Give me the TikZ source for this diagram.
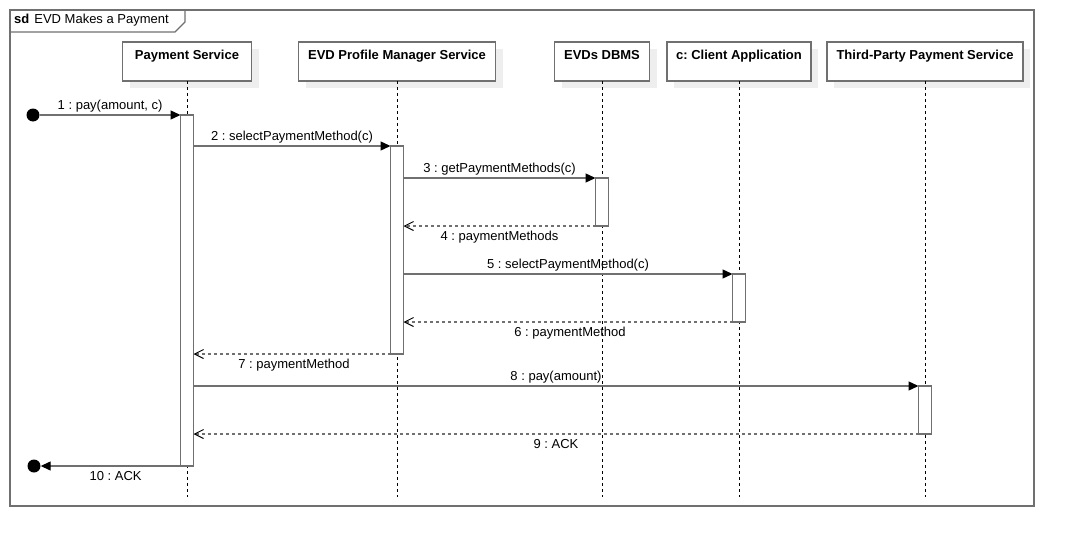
\documentclass[tikz,border=0pt]{standalone}
\usepackage{fontspec}
\setmainfont{Liberation Sans}
\usetikzlibrary{arrows.meta,shadows}
\definecolor{linegray}{RGB}{112,112,112}
\definecolor{shadowgray}{RGB}{238,238,238}

\tikzset{
    head/.style={draw=linegray,line width=1.4pt,fill=white,anchor=north,
        minimum height=39pt,inner sep=0pt,outer sep=0pt,
        drop shadow={shadow xshift=7pt,shadow yshift=-7pt,fill=shadowgray,opacity=1}},
    title/.style={anchor=base,inner sep=0pt,font=\fontsize{13}{15}\selectfont\bfseries},
    act/.style={draw=linegray,line width=1.4pt,fill=white,anchor=north,
        minimum width=13pt,inner sep=0pt,outer sep=0pt},
    life/.style={dash pattern=on 3pt off 3pt,line width=1pt},
    dot/.style={circle,fill=black,minimum size=13pt,inner sep=0pt},
    msg/.style={midway,yshift=-1pt},
    call/.style={draw=linegray,line width=1.3pt,
        -{Triangle[length=10pt,width=9pt,color=black]}},
    reply/.style={draw=linegray,line width=1.3pt,dash pattern=on 3pt off 3pt,
        -{Straight Barb[length=9pt,width=9pt,color=black,line width=1pt]}}
}

\begin{document}
\frenchspacing
\begin{tikzpicture}
    [x=1pt,y=-1pt,font=\fontsize{13}{15}\selectfont]
\useasboundingbox (0,0) rectangle (1074,546);
% frame
\draw [draw=linegray,line width=1.4pt] (10,10) rectangle (1034,506);
\draw [draw=linegray,line width=1.4pt] (10,32) -- (175,32) -- (185,22) -- (185,10);
\node [anchor=west,inner sep=0pt] (frametitle) at (14,20.5) {{\bfseries sd}\hspace{5pt}EVD Makes a Payment};
% lifelines
\path
    (187,42) node [head,minimum width=129pt] (ps) {}
    (397,42) node [head,minimum width=197pt] (pm) {}
    (602,42) node [head,minimum width=95pt] (db) {}
    (739,42) node [head,minimum width=144pt] (cl) {}
    (925,42) node [head,minimum width=196pt] (tp) {}
    [title]
    (ps.north) +(0,17) node {Payment Service}
    (pm.north) +(0,17) node {EVD Profile Manager Service}
    (db.north) +(0,17) node {EVDs DBMS}
    (cl.north) +(0,17) node {c: Client Application}
    (tp.north) +(0,17) node {Third-Party Payment Service};
\foreach \obj in {ps,pm,db,cl,tp}
    \draw [life] (\obj.south) -- (\obj.south |- 0,497);
% activations
\path
    (187,115) node [act,minimum height=351pt] (aps) {}
    (397,146) node [act,minimum height=208pt] (apm) {}
    (602,178) node [act,minimum height=48pt] (adb) {}
    (739,274) node [act,minimum height=48pt] (acl) {}
    (925,386) node [act,minimum height=48pt] (atp) {};
\node [dot] (start) at (33,115) {};
\node [dot] (stop) at (34,466) {};
% messages
\draw [call] (start) -- (aps.north west)
    node [msg,above] {1 : pay(amount, c)};
\draw [call] (aps.east |- apm.north) -- (apm.north west)
    node [msg,above] {2 : selectPaymentMethod(c)};
\draw [call] (apm.east |- adb.north) -- (adb.north west)
    node [msg,above] {3 : getPaymentMethods(c)};
\draw [reply] (adb.south west) -- (apm.east |- adb.south)
    node [msg,below] {4 : paymentMethods};
\draw [call] (apm.east |- acl.north) -- (acl.north west)
    node [msg,above] {5 : selectPaymentMethod(c)};
\draw [reply] (acl.south west) -- (apm.east |- acl.south)
    node [msg,below,xshift=2pt] {6 : paymentMethod};
\draw [reply] (apm.south west) -- (aps.east |- apm.south)
    node [msg,below,xshift=2pt] {7 : paymentMethod};
\draw [call] (aps.east |- atp.north) -- (atp.north west)
    node [msg,above] {8 : pay(amount)};
\draw [reply] (atp.south west) -- (aps.east |- atp.south)
    node [msg,below] {9 : ACK};
\draw [call] (aps.south west) -- (stop)
    node [msg,below,xshift=5pt] {10 : ACK};
\end{tikzpicture}
\end{document}
